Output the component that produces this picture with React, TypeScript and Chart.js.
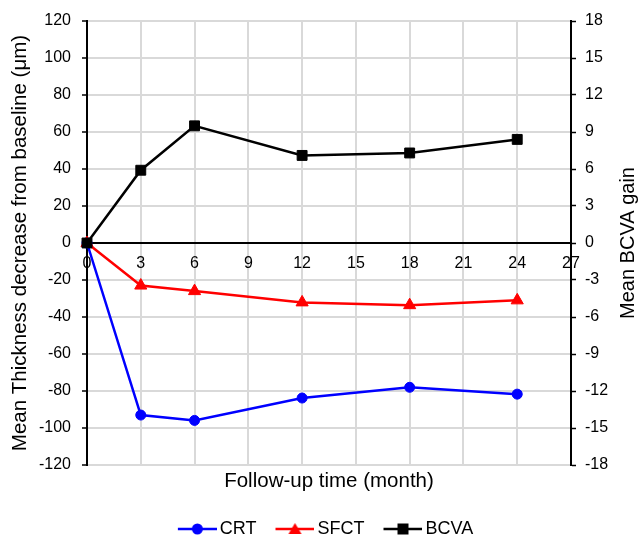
import React, { useEffect, useRef } from "react";
import { Chart, registerables } from "chart.js";

Chart.register(...registerables);

// ---- data ----
const months = [0, 3, 6, 12, 18, 24];
const crtValues = [0, -93.0, -95.9, -83.8, -78.0, -81.7];
const sfctValues = [0, -23.0, -26.0, -32.1, -33.6, -31.0];
const bcvaValues = [0, 5.9, 9.5, 7.1, 7.3, 8.4];

const seriesNames = ["CRT", "SFCT", "BCVA"];
const seriesColors = ["#0000ff", "#ff0000", "#000000"];
const seriesMarkers = ["circle", "triangle", "rect"];

const xTitle = "Follow-up time (month)";
const yLeftTitle = "Mean Thickness decrease from baseline (μm)";
const yRightTitle = "Mean BCVA gain";

const FONT = '"Liberation Sans", Arial, sans-serif';

// legend layout constants
const LEG_BOX = 46;
const LEG_PAD = 6;

function makeLegendImage(color: string, marker: string): HTMLCanvasElement {
  const c = document.createElement("canvas");
  c.width = 58;
  c.height = 16;
  const g = c.getContext("2d")!;
  const cy = 8;
  g.strokeStyle = color;
  g.lineWidth = 2.5;
  g.beginPath();
  g.moveTo(19, cy);
  g.lineTo(58, cy);
  g.stroke();
  const cx = 38.5;
  g.fillStyle = color;
  g.beginPath();
  if (marker === "circle") {
    g.arc(cx, cy, 5.5, 0, Math.PI * 2);
  } else if (marker === "triangle") {
    g.moveTo(cx, cy - 6);
    g.lineTo(cx + 6.5, cy + 5);
    g.lineTo(cx - 6.5, cy + 5);
    g.closePath();
  } else {
    g.rect(cx - 5.5, cy - 5.5, 11, 11);
  }
  g.fill();
  return c;
}

const rightTitlePlugin = {
  id: "rightTitle",
  afterDraw(chart: any) {
    const { ctx, chartArea } = chart;
    ctx.save();
    ctx.translate(chart.width - 10, (chartArea.top + chartArea.bottom) / 2);
    ctx.rotate(-Math.PI / 2);
    ctx.font = `20px ${FONT}`;
    ctx.fillStyle = "#000";
    ctx.textAlign = "center";
    ctx.textBaseline = "middle";
    ctx.fillText(yRightTitle, 0, 0);
    ctx.restore();
  },
};

export default function App() {
  const ref = useRef<HTMLCanvasElement | null>(null);

  useEffect(() => {
    document.body.style.margin = "0";
    const canvas = ref.current;
    if (!canvas) return;
    Chart.defaults.font.family = FONT;
    Chart.defaults.color = "#000";

    const legendImages = seriesColors.map((c, i) => makeLegendImage(c, seriesMarkers[i]));
    const valueSets = [crtValues, sfctValues, bcvaValues];
    const radii = [5, 7, 7];

    const datasets = seriesNames.map((name, i) => ({
      label: name,
      data: months.map((m, j) => ({ x: m, y: valueSets[i][j] })),
      borderColor: seriesColors[i],
      backgroundColor: seriesColors[i],
      pointBackgroundColor: seriesColors[i],
      pointBorderColor: seriesColors[i],
      pointStyle: seriesMarkers[i],
      pointRadius: radii[i],
      pointBorderWidth: 1,
      borderWidth: 2.5,
      tension: 0,
      clip: false as any,
      yAxisID: i === 2 ? "y2" : "y",
      xAxisID: "x",
      order: 3 - i,
    }));

    const chart = new Chart(canvas, {
      type: "line",
      data: { datasets },
      plugins: [rightTitlePlugin],
      options: {
        animation: false,
        responsive: false,
        devicePixelRatio: 1,
        layout: { padding: { top: 21, bottom: -10, left: 0, right: 0 } },
        plugins: {
          tooltip: { enabled: false },
          legend: {
            display: true,
            position: "bottom",
            labels: {
              usePointStyle: true,
              pointStyleWidth: LEG_BOX,
              padding: LEG_PAD,
              color: "#000",
              font: { size: 18, family: FONT },
              sort: (a: any, b: any) => a.datasetIndex - b.datasetIndex,
              generateLabels: (ch: any) => {
                const items = (Chart.defaults.plugins.legend.labels as any).generateLabels(ch);
                return items.map((it: any) => ({ ...it, pointStyle: legendImages[it.datasetIndex] }));
              },
            },
          },
        },
        scales: {
          x: {
            type: "linear",
            position: { y: 0 } as any,
            min: 0,
            max: 27,
            ticks: { stepSize: 3, autoSkip: false, maxRotation: 0, padding: 11, font: { size: 16 }, color: "#000" },
            grid: { color: "#d9d9d9", lineWidth: 2, drawTicks: false },
            border: { color: "#000", width: 2 },
          },
          x2: {
            type: "linear",
            position: "bottom",
            min: 0,
            max: 27,
            ticks: { display: false },
            grid: { display: false, drawTicks: false },
            border: { display: false },
            title: { display: true, text: xTitle, color: "#000", font: { size: 20.5 }, padding: { top: 0, bottom: 20.7 } },
            afterFit: (s: any) => { s.height = 49; },
          },
          y: {
            type: "linear",
            position: "left",
            min: -120,
            max: 120,
            ticks: { stepSize: 20, padding: 11, font: { size: 16 }, color: "#000" },
            grid: { color: "#d9d9d9", lineWidth: 2, tickColor: "#000", tickLength: 5, tickWidth: 1.5 },
            border: { color: "#000", width: 2 },
            title: { display: true, text: yLeftTitle, color: "#000", font: { size: 20.5 }, padding: { top: 8.5, bottom: 0 } },
            afterFit: (s: any) => { s.width = 87; },
          },
          y2: {
            type: "linear",
            position: "right",
            min: -18,
            max: 18,
            ticks: { stepSize: 3, padding: 9, font: { size: 16 }, color: "#000" },
            grid: { drawOnChartArea: false, color: "#000", tickColor: "#000", tickLength: 5, tickWidth: 1.5 },
            border: { color: "#000", width: 2 },
            afterFit: (s: any) => { s.width = 67; },
          },
        },
      } as any,
    });
    return () => chart.destroy();
  }, []);

  return (
    <div style={{ width: 638, height: 538 }}>
      <canvas ref={ref} width={638} height={538} style={{ display: "block" }} />
    </div>
  );
}
